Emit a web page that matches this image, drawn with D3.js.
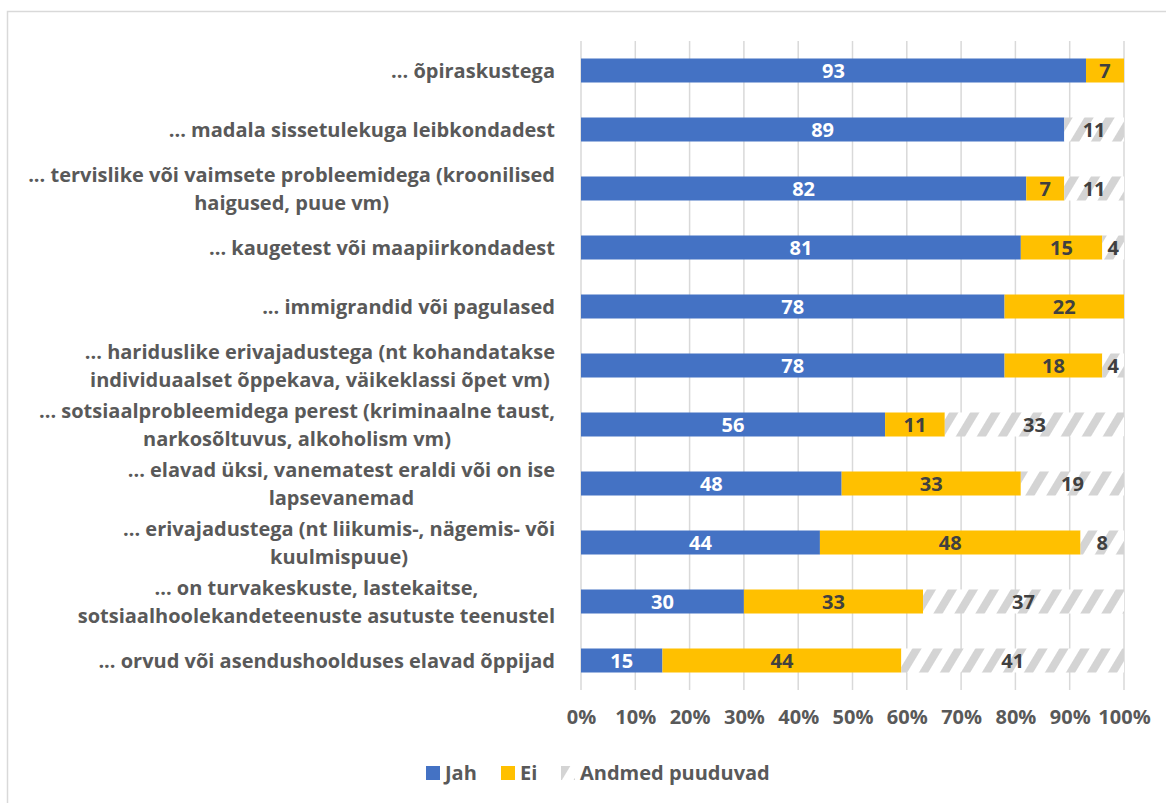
<!DOCTYPE html>
<html>
<head>
<meta charset="utf-8">
<script src="https://cdn.jsdelivr.net/npm/d3@7"></script>
<style>
  body { margin: 0; background: #fff; }
  svg { display: block; }
  text { font-family: "Open Sans", Lato, sans-serif; font-weight: 700; }
</style>
</head>
<body>
<div id="chart"></div>
<script>
// categories, one array of lines per label
const categories = [
  ['... õpiraskustega '],
  ['... madala sissetulekuga leibkondadest'],
  ['... tervislike või vaimsete probleemidega (kroonilised', 'haigused, puue vm)'],
  ['... kaugetest või maapiirkondadest'],
  ['... immigrandid või pagulased'],
  ['... hariduslike erivajadustega (nt kohandatakse', 'individuaalset õppekava, väikeklassi õpet vm)'],
  ['... sotsiaalprobleemidega perest (kriminaalne taust,', 'narkosõltuvus, alkoholism vm)'],
  ['... elavad üksi, vanematest eraldi või on ise', 'lapsevanemad'],
  ['... erivajadustega (nt liikumis-, nägemis- või', 'kuulmispuue)'],
  ['... on turvakeskuste, lastekaitse,', 'sotsiaalhoolekandeteenuste asutuste teenustel'],
  ['... orvud või asendushoolduses elavad õppijad']
]
const jah = [93, 89, 82, 81, 78, 78, 56, 48, 44, 30, 15]
const ei = [7, 0, 7, 15, 22, 18, 11, 33, 48, 33, 44]
const puudu = [0, 11, 11, 4, 0, 4, 33, 19, 8, 37, 41]
const seriesNames = ['Jah', 'Ei', 'Andmed puuduvad']
const xTicks = [0, 10, 20, 30, 40, 50, 60, 70, 80, 90, 100]

const width = 1166, height = 803
const fontSize = '20px'
const svg = d3.select('#chart').append('svg')
  .attr('width', width)
  .attr('height', height)

// hatch pattern for missing data
const defs = svg.append('defs')
const pat = defs.append('pattern')
  .attr('id', 'hatch')
  .attr('patternUnits', 'userSpaceOnUse')
  .attr('width', 18)
  .attr('height', 18)
  .attr('patternTransform', 'rotate(31)')
pat.append('rect').attr('width', 18).attr('height', 18).attr('fill', '#fff')
pat.append('rect').attr('width', 8).attr('height', 18).attr('fill', '#d4d4d4')

// outer frame (only left and top edges are visible)
svg.append('rect')
  .attr('x', 7.5).attr('y', 11.5)
  .attr('width', 1170).attr('height', 800)
  .attr('fill', 'none')
  .attr('stroke', '#d9d9d9')
  .attr('stroke-width', 1.5)

const x = d3.scaleLinear().domain([0, 100]).range([581, 1124])
const y = d3.scaleBand()
  .domain(d3.range(categories.length))
  .range([41, 690])
  .paddingInner(35 / 59)
  .paddingOuter(35 / 118)

// gridlines
svg.append('g')
  .selectAll('line')
  .data(xTicks)
  .join('line')
  .attr('x1', d => x(d)).attr('x2', d => x(d))
  .attr('y1', 41).attr('y2', 690)
  .attr('stroke', '#d9d9d9')
  .attr('stroke-width', 1.5)

// x axis labels
const xAxis = d3.axisBottom(x).tickValues(xTicks).tickSize(0).tickPadding(0).tickFormat(d => d + '%')
const gx = svg.append('g').attr('transform', 'translate(0,710)').call(xAxis)
gx.select('.domain').remove()
gx.selectAll('text')
  .attr('fill', '#595959')
  .style('font-size', fontSize)
  .style('font-family', '"Open Sans", sans-serif')
  .style('font-weight', 700)

// stacked data
const rows = categories.map((c, i) => ({ i, Jah: jah[i], Ei: ei[i], 'Andmed puuduvad': puudu[i] }))
const stack = d3.stack().keys(seriesNames)(rows)
const fills = { 'Jah': '#4472c4', 'Ei': '#ffc000', 'Andmed puuduvad': 'url(#hatch)' }
const labelColors = { 'Jah': '#ffffff', 'Ei': '#404040', 'Andmed puuduvad': '#404040' }

const layers = svg.append('g').selectAll('g')
  .data(stack)
  .join('g')

layers.selectAll('rect')
  .data(s => s.filter(d => d[1] - d[0] > 0))
  .join('rect')
  .attr('x', d => x(d[0]))
  .attr('width', d => x(d[1]) - x(d[0]))
  .attr('y', d => y(d.data.i))
  .attr('height', y.bandwidth())
  .attr('fill', function () { return fills[d3.select(this.parentNode).datum().key] })

layers.each(function (s) {
  d3.select(this).selectAll('text')
    .data(s.filter(d => d[1] - d[0] > 0))
    .join('text')
    .attr('x', d => x((d[0] + d[1]) / 2))
    .attr('y', d => y(d.data.i) + y.bandwidth() / 2)
    .attr('dy', '0.36em')
    .attr('text-anchor', 'middle')
    .attr('fill', labelColors[s.key])
    .style('font-size', fontSize)
    .text(d => d[1] - d[0])
})

// category labels: block right aligned, lines centered within block
const labelRight = 555
const lineH = 28
const cat = svg.append('g')
categories.forEach((lines, i) => {
  const g = cat.append('g')
  const cy = y(i) + y.bandwidth() / 2
  const texts = lines.map((l, k) => g.append('text')
    .attr('y', cy + (k - (lines.length - 1) / 2) * lineH)
    .attr('dy', '0.36em')
    .attr('text-anchor', 'middle')
    .attr('fill', '#595959')
    .style('font-size', fontSize)
    .text(l))
  const maxW = d3.max(texts, t => t.node().getComputedTextLength())
  texts.forEach(t => t.attr('x', labelRight - maxW / 2))
})

// legend
const legendItems = [
  { name: 'Jah', x: 426 },
  { name: 'Ei', x: 501 },
  { name: 'Andmed puuduvad', x: 561 }
]
const lg = svg.append('g').selectAll('g')
  .data(legendItems)
  .join('g')
  .attr('transform', d => `translate(${d.x},766)`)
lg.append('rect')
  .attr('width', 14).attr('height', 14)
  .attr('fill', d => fills[d.name])
lg.append('text')
  .attr('x', 19).attr('y', 7)
  .attr('dy', '0.36em')
  .attr('fill', '#595959')
  .style('font-size', fontSize)
  .text(d => d.name)
</script>
</body>
</html>
